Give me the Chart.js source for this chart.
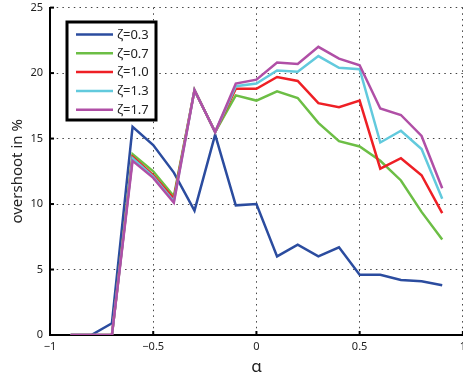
<!DOCTYPE html>
<html>
<head>
<meta charset="utf-8">
<script src="https://cdn.jsdelivr.net/npm/chart.js@4"></script>
<style>
  html, body { margin: 0; padding: 0; background: #fff; overflow: hidden; }
  #wrap { width: 463px; height: 377px; position: relative; overflow: hidden; }
  #c { position: absolute; left: 0; top: -6px; }
</style>
</head>
<body>
<div id="wrap"><canvas id="c" width="471" height="383"></canvas></div>
<script>
const alphas = [-0.9, -0.8, -0.7, -0.6, -0.5, -0.4, -0.3, -0.2, -0.1, 0, 0.1, 0.2, 0.3, 0.4, 0.5, 0.6, 0.7, 0.8, 0.9];
const zeta03 = [0, 0, 0.9, 15.9, 14.5, 12.4, 9.5, 15.3, 9.9, 10.0, 6.0, 6.9, 6.0, 6.7, 4.6, 4.6, 4.2, 4.1, 3.8];
const zeta07 = [0, 0, 0, 13.8, 12.5, 10.6, 18.7, 15.5, 18.3, 17.9, 18.6, 18.1, 16.2, 14.8, 14.4, 13.3, 11.8, 9.4, 7.3];
const zeta10 = [0, 0, 0, 13.6, 12.2, 10.4, 18.7, 15.5, 18.8, 18.8, 19.7, 19.4, 17.7, 17.4, 17.9, 12.7, 13.5, 12.2, 9.3];
const zeta13 = [0, 0, 0, 13.5, 12.1, 10.2, 18.7, 15.5, 19.0, 19.2, 20.2, 20.1, 21.3, 20.4, 20.3, 14.7, 15.6, 14.2, 10.4];
const zeta17 = [0, 0, 0, 13.3, 12.0, 10.1, 18.7, 15.5, 19.2, 19.5, 20.8, 20.7, 22.0, 21.1, 20.6, 17.3, 16.8, 15.2, 11.2];
const seriesLabels = ['ζ=0.3', 'ζ=0.7', 'ζ=1.0', 'ζ=1.3', 'ζ=1.7'];
const xTickLabels = { '-1': '−1', '-0.5': '−0.5', '0': '0', '0.5': '0.5', '1': '1' };
const yTickLabels = ['0', '5', '10', '15', '20', '25'];

const colors = ['#2B4C9F', '#6CBE45', '#EE1F25', '#62CADD', '#B04FA6'];
const allSeries = [zeta03, zeta07, zeta10, zeta13, zeta17];

const datasets = allSeries.map((vals, i) => ({
  label: seriesLabels[i],
  data: alphas.map((a, j) => ({ x: a, y: vals[j] })),
  borderColor: colors[i],
  backgroundColor: colors[i],
  borderWidth: 2.5,
  pointRadius: 0,
  tension: 0,
  fill: false,
  order: 5 - i
}));

const FONT = '"Noto Sans", "DejaVu Sans", sans-serif';
const SHIFT = 6; // canvas is shifted up by this many pixels

const legendPlugin = {
  id: 'innerLegend',
  afterDatasetsDraw(chart) {
    const ctx = chart.ctx;
    const x0 = 67, y0 = 22 + SHIFT, w = 89, h = 98;
    ctx.save();
    ctx.fillStyle = '#fff';
    ctx.fillRect(x0, y0, w, h);
    ctx.strokeStyle = '#000';
    ctx.lineWidth = 3;
    ctx.strokeRect(x0, y0, w, h);
    ctx.font = '13px ' + FONT;
    ctx.textBaseline = 'middle';
    ctx.textAlign = 'left';
    chart.data.datasets.forEach((ds, i) => {
      const yy = 34.5 + SHIFT + i * 18.8;
      ctx.strokeStyle = ds.borderColor;
      ctx.lineWidth = 2.5;
      ctx.beginPath();
      ctx.moveTo(76, yy);
      ctx.lineTo(113, yy);
      ctx.stroke();
      ctx.fillStyle = '#222';
      ctx.fillText(ds.label, 117, yy + 0.5);
    });
    ctx.restore();
  },
  afterDraw(chart) {
    const ctx = chart.ctx;
    const xs = chart.scales.x, ys = chart.scales.y;
    const a = chart.chartArea;
    ctx.save();
    ctx.strokeStyle = '#000';
    ctx.lineWidth = 2;
    xs.ticks.forEach(t => {
      const px = xs.getPixelForValue(t.value);
      ctx.beginPath(); ctx.moveTo(px, a.bottom); ctx.lineTo(px, a.bottom - 4); ctx.stroke();
    });
    ys.ticks.forEach(t => {
      const py = ys.getPixelForValue(t.value);
      ctx.beginPath(); ctx.moveTo(a.left, py); ctx.lineTo(a.left + 4, py); ctx.stroke();
    });
    ctx.restore();
  }
};

new Chart(document.getElementById('c'), {
  type: 'line',
  data: { datasets },
  options: {
    responsive: false,
    animation: false,
    layout: { padding: { top: 2, right: 1, left: 0, bottom: 0 } },
    plugins: { legend: { display: false }, tooltip: { enabled: false } },
    scales: {
      x: {
        type: 'linear',
        min: -1, max: 1,
        afterFit(s) { s.height = 42; },
        ticks: {
          stepSize: 0.5,
          padding: 5,
          color: '#222',
          font: { family: FONT, size: 11 },
          maxRotation: 0,
          callback: v => xTickLabels[String(v)] ?? ''
        },
        grid: { color: '#444', lineWidth: 1, drawTicks: false, tickLength: 0 },
        border: { display: true, color: '#000', width: 2, dash: [1.5, 4.2] },
        title: {
          display: true, text: 'α', color: '#222',
          font: { family: FONT, size: 17 },
          padding: { top: 0, bottom: 0 }
        }
      },
      y: {
        min: 0, max: 25,
        afterFit(s) { s.width = 50; },
        ticks: {
          stepSize: 5,
          padding: 7,
          color: '#222',
          font: { family: FONT, size: 11 },
          callback: (v) => yTickLabels[v / 5] ?? ''
        },
        grid: { color: '#444', lineWidth: 1, drawTicks: false, tickLength: 0 },
        border: { display: true, color: '#000', width: 2, dash: [1.5, 4.2] },
        title: {
          display: true, text: 'overshoot in %', color: '#222',
          font: { family: FONT, size: 15 },
          padding: { top: 9, bottom: 0 }
        }
      }
    }
  },
  plugins: [legendPlugin]
});
</script>
</body>
</html>
